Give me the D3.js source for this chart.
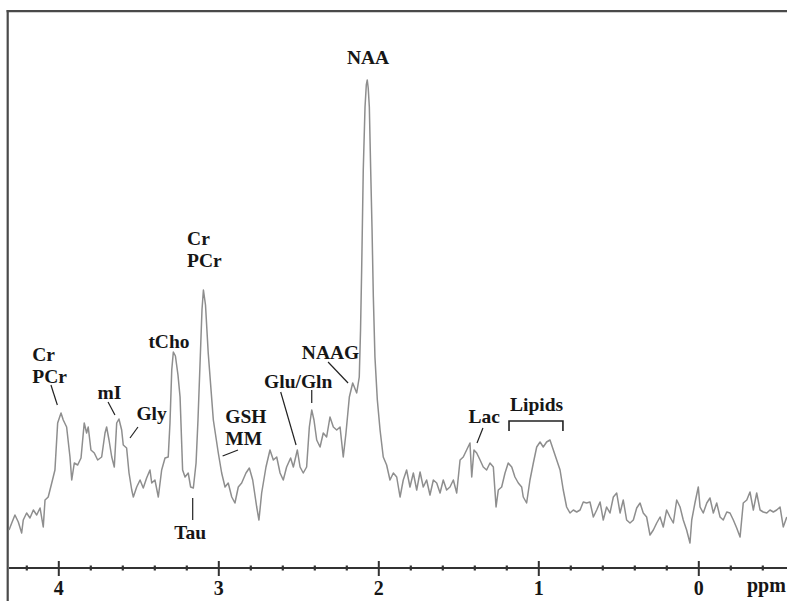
<!DOCTYPE html>
<html>
<head>
<meta charset="utf-8">
<script src="https://cdn.jsdelivr.net/npm/d3@7"></script>
<style>
  html, body { margin: 0; padding: 0; background: #fff; }
  svg { display: block; }
  text { font-family: "Liberation Serif", "Times New Roman", serif; font-weight: bold; fill: #161616; }
</style>
</head>
<body>
<svg id="chart" width="787" height="601"></svg>
<script>
// ---- Data ----
const ppm = [4.308,4.291,4.271,4.250,4.229,4.219,4.198,4.177,4.156,4.135,4.114,4.094,4.083,4.063,4.041,4.021,4.004,3.983,3.969,3.948,
3.927,3.916,3.900,3.879,3.858,3.838,3.823,3.813,3.796,3.775,3.754,3.729,3.708,3.698,3.683,3.666,3.650,3.635,3.621,3.604,
3.594,3.573,3.558,3.541,3.531,3.510,3.489,3.469,3.448,3.427,3.416,3.396,3.375,3.354,3.333,3.313,3.302,3.291,3.281,3.268,
3.252,3.239,3.223,3.208,3.188,3.173,3.156,3.139,3.127,3.114,3.102,3.093,3.080,3.063,3.031,3.000,2.979,2.958,2.938,2.916,
2.896,2.875,2.854,2.827,2.806,2.785,2.760,2.746,2.729,2.702,2.677,2.656,2.635,2.614,2.594,2.573,2.548,2.531,2.506,2.489,
2.469,2.448,2.431,2.416,2.402,2.385,2.364,2.344,2.323,2.302,2.281,2.260,2.239,2.219,2.202,2.181,2.160,2.135,2.119,2.111,
2.104,2.094,2.083,2.075,2.069,2.063,2.056,2.048,2.039,2.031,2.021,2.006,1.989,1.969,1.948,1.927,1.906,1.885,1.864,1.844,
1.823,1.802,1.781,1.760,1.739,1.719,1.698,1.677,1.656,1.635,1.614,1.594,1.573,1.552,1.531,1.510,1.489,1.469,1.448,1.427,
1.416,1.402,1.385,1.364,1.344,1.323,1.302,1.281,1.264,1.250,1.229,1.208,1.188,1.166,1.146,1.125,1.104,1.094,1.073,1.052,
1.031,1.010,0.989,0.969,0.948,0.927,0.906,0.885,0.864,0.844,0.823,0.802,0.781,0.760,0.739,0.719,0.698,0.677,0.656,0.635,
0.614,0.594,0.573,0.552,0.531,0.510,0.489,0.469,0.448,0.427,0.406,0.385,0.364,0.344,0.323,0.302,0.281,0.260,0.239,0.219,
0.198,0.177,0.156,0.135,0.114,0.094,0.073,0.052,0.041,0.021,0.000,-0.011,-0.031,-0.053,-0.073,-0.094,-0.115,-0.136,-0.156,-0.178,
-0.198,-0.219,-0.240,-0.261,-0.281,-0.303,-0.323,-0.344,-0.365,-0.386,-0.406,-0.428,-0.448,-0.469,-0.490,-0.511,-0.531,-0.553];

const intensity = [7.6,9.0,10.6,9.2,7.0,9.6,11.0,10.0,11.6,10.6,12.0,8.2,13.6,14.2,17.0,19.6,29.0,31.0,29.6,28.2,
22.2,17.6,21.0,20.6,22.0,29.0,27.0,28.2,23.6,23.0,21.6,22.2,27.0,28.2,25.6,22.2,20.2,29.0,29.8,27.6,
24.6,24.0,19.0,15.6,14.2,16.2,17.6,16.0,18.0,19.6,17.0,17.6,14.2,19.6,22.0,22.2,29.0,39.6,43.2,42.4,
38.6,34.2,19.6,18.2,19.0,16.2,16.0,21.0,29.6,41.0,51.6,55.6,52.6,43.0,29.6,23.0,19.0,16.2,17.0,14.2,
13.0,16.2,17.0,19.0,20.0,17.6,12.2,9.6,15.0,20.2,23.6,21.6,22.2,19.0,17.6,20.2,22.0,20.2,23.6,20.2,
19.0,20.2,28.2,31.6,29.6,25.6,24.2,27.0,26.2,30.2,28.2,27.6,28.2,22.2,27.0,34.2,37.0,35.0,38.2,47.6,
59.6,79.6,92.2,96.6,97.6,96.0,92.2,80.2,67.6,54.2,42.2,33.6,27.6,22.2,20.6,17.6,19.0,18.2,14.2,17.6,
19.6,16.2,19.0,15.6,19.2,16.2,17.6,14.6,17.6,17.0,15.0,17.6,15.6,16.2,17.6,15.0,21.6,22.2,23.6,25.0,
18.2,23.6,23.0,21.6,20.2,19.6,21.0,20.2,12.2,15.6,16.2,19.0,21.0,20.2,18.2,17.0,16.2,14.2,13.0,17.6,
21.0,24.2,25.2,24.2,25.2,25.6,23.6,21.6,19.6,15.6,12.2,11.0,11.6,11.2,11.6,13.2,13.0,13.2,10.2,11.6,
13.2,9.6,12.2,11.0,14.2,15.0,11.0,13.6,9.6,9.0,9.6,12.0,13.0,11.0,10.2,6.6,7.6,9.0,10.2,8.2,
11.6,10.2,9.0,13.6,12.2,9.6,7.6,5.0,9.6,13.0,16.2,12.2,11.0,13.0,14.0,11.0,13.0,10.2,9.6,11.2,
11.0,9.6,8.0,6.2,13.0,13.6,15.2,11.6,15.0,11.6,11.2,11.0,11.6,11.2,11.6,12.2,8.2,10.2];

const majorTicks = [4, 3, 2, 1, 0];
const minorTicks = [4.2, 3.8, 3.6, 3.4, 3.2, 2.8, 2.6, 2.4, 2.2, 1.8, 1.6, 1.4, 1.2, 0.8, 0.6, 0.4, 0.2, -0.2, -0.4];
const axisUnit = "ppm";

// Annotation labels: text lines, ppm of left edge, intensity of first baseline
const labels = [
  { lines: ["NAA"], ppm: 2.064, val: 100.8, anchor: "middle" },
  { lines: ["Cr", "PCr"], ppm: 3.195, val: 64.6 },
  { lines: ["Cr", "PCr"], ppm: 4.163, val: 41.4 },
  { lines: ["tCho"], ppm: 3.437, val: 44.0 },
  { lines: ["mI"], ppm: 3.755, val: 33.8 },
  { lines: ["Gly"], ppm: 3.512, val: 29.6 },
  { lines: ["GSH", "MM"], ppm: 2.956, val: 29.0 },
  { lines: ["Tau"], ppm: 3.275, val: 5.8 },
  { lines: ["Glu/Gln"], ppm: 2.714, val: 36.0 },
  { lines: ["NAAG"], ppm: 2.478, val: 41.8 },
  { lines: ["Lac"], ppm: 1.437, val: 29.0 },
  { lines: ["Lipids"], ppm: 1.177, val: 31.4 }
];
// Leader lines: ppm1, val1, ppm2, val2
const leaders = [
  [4.046, 36.6, 4.006, 32.6],
  [3.689, 33.2, 3.646, 30.6],
  [3.502, 28.2, 3.552, 26.0],
  [2.973, 22.4, 2.877, 23.6],
  [3.160, 14.0, 3.160, 9.6],
  [2.610, 35.2, 2.514, 24.6],
  [2.416, 35.6, 2.416, 33.0],
  [2.314, 41.2, 2.189, 37.0],
  [1.346, 28.0, 1.383, 25.0]
];
const lipidBracket = { from: 1.183, to: 0.846, top: 29.4, bottom: 27.4 };

// ---- Drawing ----
const svg = d3.select("#chart");
const W = 787, H = 601;
const axisY = 568;

const x = d3.scaleLinear().domain([4.3, -0.55]).range([10.3, 786.3]);
const y = d3.scaleLinear().domain([0, 111.4]).range([axisY, 11]);

svg.append("rect").attr("width", W).attr("height", H).attr("fill", "#fff");

// frame (left and top)
svg.append("line").attr("x1", 7.7).attr("x2", 7.7).attr("y1", 10).attr("y2", H)
  .attr("stroke", "#4a4a4a").attr("stroke-width", 2.2);
svg.append("line").attr("x1", 6.6).attr("x2", W).attr("y1", 11.2).attr("y2", 11.2)
  .attr("stroke", "#4a4a4a").attr("stroke-width", 2.2);

// spectrum
const pts = ppm.map((p, i) => [p, intensity[i]]);
svg.append("path")
  .datum(pts)
  .attr("fill", "none")
  .attr("stroke", "#8e8e8e")
  .attr("stroke-width", 1.5)
  .attr("stroke-linejoin", "round")
  .attr("d", d3.line().x(d => x(d[0])).y(d => y(d[1])));

// axis
const axisG = svg.append("g").attr("transform", `translate(0,${axisY})`);
axisG.append("line").attr("x1", 9).attr("x2", W).attr("y1", 0).attr("y2", 0)
  .attr("stroke", "#333").attr("stroke-width", 2);

const major = d3.axisBottom(x).tickValues(majorTicks).tickSize(8).tickSizeOuter(0).tickFormat(d3.format("d"));
const majG = axisG.append("g").call(major);
majG.select(".domain").remove();
majG.selectAll(".tick line").attr("y1", -7).attr("y2", 8).attr("stroke", "#333").attr("stroke-width", 2);
majG.selectAll(".tick text")
  .attr("y", 27).attr("dy", null)
  .style("font-family", '"Liberation Serif", "Times New Roman", serif')
  .style("font-weight", "bold").style("font-size", "20px").attr("fill", "#161616");

const minor = d3.axisBottom(x).tickValues(minorTicks).tickSize(3).tickSizeOuter(0).tickFormat("");
const minG = axisG.append("g").call(minor);
minG.select(".domain").remove();
minG.selectAll(".tick line").attr("y1", -2.5).attr("y2", 2.5).attr("stroke", "#333").attr("stroke-width", 2.2);

svg.append("text").attr("x", 747).attr("y", 592).style("font-size", "20px").text(axisUnit);

// labels
labels.forEach(l => {
  const t = svg.append("text")
    .attr("x", x(l.ppm)).attr("y", y(l.val))
    .attr("text-anchor", l.anchor || "start")
    .style("font-size", "19.5px");
  l.lines.forEach((s, i) => {
    t.append("tspan").attr("x", x(l.ppm)).attr("dy", i === 0 ? 0 : 22).text(s);
  });
});

// leaders
svg.selectAll("line.leader").data(leaders).enter().append("line")
  .attr("class", "leader")
  .attr("x1", d => x(d[0])).attr("y1", d => y(d[1]))
  .attr("x2", d => x(d[2])).attr("y2", d => y(d[3]))
  .attr("stroke", "#222").attr("stroke-width", 1.2);

svg.append("path")
  .attr("fill", "none").attr("stroke", "#222").attr("stroke-width", 1.6)
  .attr("d", d3.line()([
    [x(lipidBracket.from), y(lipidBracket.bottom)],
    [x(lipidBracket.from), y(lipidBracket.top)],
    [x(lipidBracket.to), y(lipidBracket.top)],
    [x(lipidBracket.to), y(lipidBracket.bottom)]
  ]));
</script>
</body>
</html>
